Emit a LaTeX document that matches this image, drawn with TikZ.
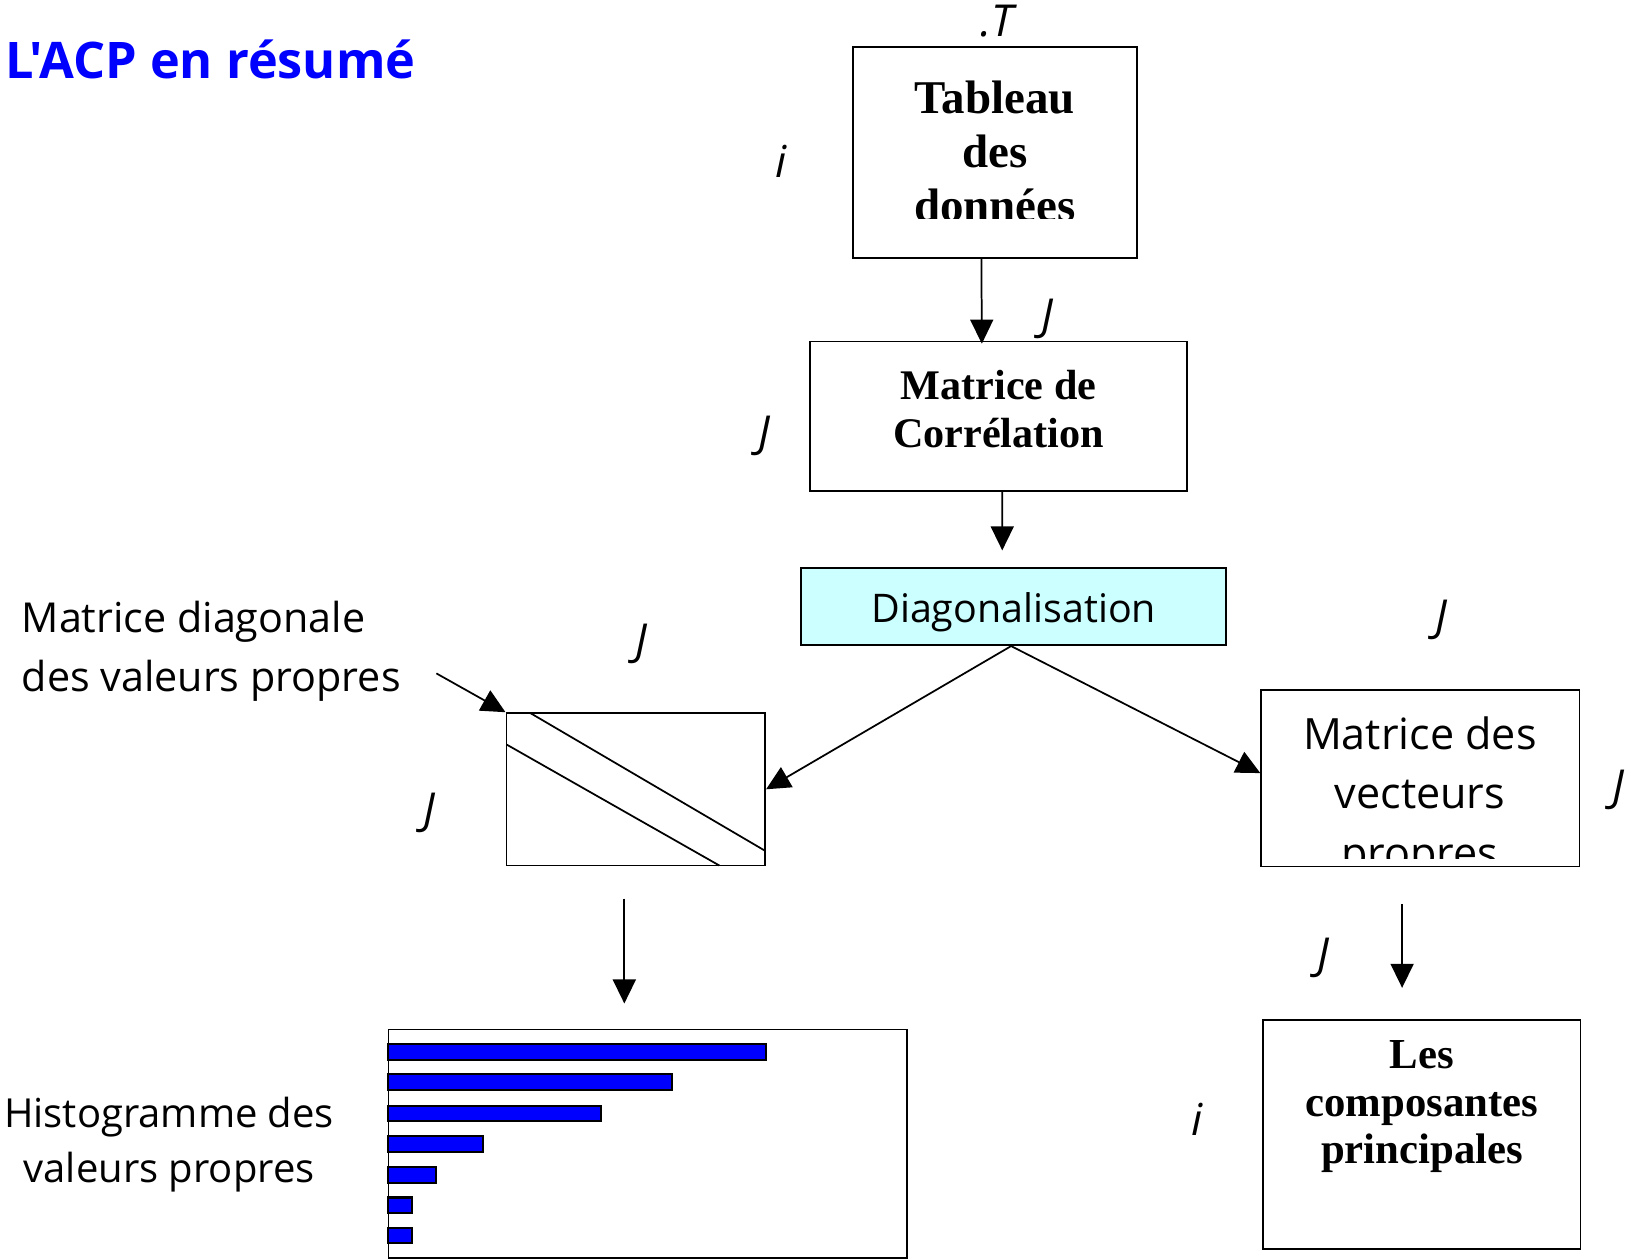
\documentclass[tikz,border=0pt]{standalone}
\usepackage{fontspec}
\setmainfont{Liberation Serif}
\newfontfamily\comic{Open Sans}
\usetikzlibrary{arrows.meta,calc}
\definecolor{diagcyan}{HTML}{CCFFFF}
\definecolor{titleblue}{HTML}{0000FF}
\begin{document}
\begin{tikzpicture}[x=0.02cm,y=-0.02cm, line width=0.95pt,
  box/.style={draw, rectangle, inner sep=0pt},
  arr/.style={-{Triangle[length=0.46cm,width=0.44cm]}},
  ctext/.style={font=\comic\fontsize{23}{32.4}\selectfont, inner sep=0pt},
  btext/.style={font=\bfseries\fontsize{23}{26}\selectfont, align=center, inner sep=0pt},
  lbl/.style={font=\comic\itshape\fontsize{24}{28}\selectfont, inner sep=0pt},
  bar/.style={draw, fill=titleblue, line width=1.1pt}]
\useasboundingbox (0,0) rectangle (1568,1205);

% title
\node[anchor=base west, inner sep=0pt, text=titleblue, font=\comic\bfseries\fontsize{27.5}{32}\selectfont] (title) at (4,75) {L'ACP en résumé};

% boxes
\node[box, minimum width=5.44cm, minimum height=4.04cm] (tab) at (953,146) {};
\begin{scope}
  \clip (817,45) rectangle (1089,209);
  \node[btext, font=\bfseries\fontsize{25.6}{29.6}\selectfont] (tabtext) at (953,145) {Tableau\\des\\données};
\end{scope}
\node[box, minimum width=7.22cm, minimum height=2.86cm] (corr) at (956.5,398.5) {};
\node[btext] (corrtext) at (956.5,391.5) {Matrice de\\Corrélation};
\node[box, fill=diagcyan, minimum width=8.14cm, minimum height=1.48cm] (diag) at (970.5,581) {};
\node[ctext, font=\comic\fontsize{21.5}{26}\selectfont] (diagtext) at (971,586) {Diagonalisation};
\node[box, minimum width=4.96cm, minimum height=2.92cm] (dbox) at (609,756) {};
\draw (508,683) -- (733,815);
\draw (485,713) -- (689,829);
\node[box, minimum width=6.10cm, minimum height=3.38cm] (vbox) at (1360.5,745.5) {};
\begin{scope}
  \clip (1208,661) rectangle (1513,822);
  \node[ctext, align=center, font=\comic\fontsize{23.5}{32.4}\selectfont] (vtext) at (1360,764) {Matrice des\\vecteurs\\propres};
\end{scope}
\node[box, minimum width=9.94cm, minimum height=4.38cm] (hist) at (620.5,1095.5) {};
\foreach \y/\r in {1000/734,1029/644,1059/576,1088/463,1118/418,1147/395,1176/395}
  \draw[bar] (372,\y) rectangle (\r,\y+15);
\node[box, minimum width=6.08cm, minimum height=4.38cm] (comp) at (1362,1086.5) {};
\node[btext, font=\bfseries\fontsize{23.3}{26}\selectfont] (comptext) at (1362,1060) {Les\\composantes\\principales};

% side labels
\node[ctext, align=left, anchor=west, font=\comic\fontsize{22.5}{31.9}\selectfont] (ldiag) at (20,624) {Matrice diagonale\\des valeurs propres};
\node[ctext, align=center, font=\comic\fontsize{21.8}{30}\selectfont] (lhist) at (162,1096) {Histogramme des\\valeurs propres};

% J / i labels
\node[lbl] (t0) at (955,20) {.T};
\node[lbl] (i1) at (748,155) {i};
\node[lbl] (j1) at (1003,305) {J};
\node[lbl] (j2) at (732,418) {J};
\node[lbl] (j3) at (614,617) {J};
\node[lbl] (j4) at (1381,594) {J};
\node[lbl] (j5) at (411,779) {J};
\node[lbl] (j6) at (1550,757) {J};
\node[lbl] (j7) at (1268,918) {J};
\node[lbl] (i2) at (1147,1072) {i};

% connectors
\coordinate (lstart) at (418,645);
\draw[arr] ($(tab.south)+(-13,0)$) -- ($(corr.north)+(-16,3)$);
\draw[arr] ($(corr.south)+(3.5,0)$) -- ($(diag.north)+(-10.5,-16)$);
\draw[arr] ($(diag.south)+(-2,0)$) -- (dbox.east);
\draw[arr] ($(diag.south)+(-2,0)$) -- ($(vbox.west)+(0,-5)$);
\draw[arr] (lstart) -- (dbox.north west);
\draw[arr] ($(dbox.south)+(-11,31)$) -- ($(hist.north)+(-22.5,-24)$);
\draw[arr] ($(vbox.south)+(-17.5,35)$) -- ($(comp.north)+(-19,-30)$);
\end{tikzpicture}
\end{document}
